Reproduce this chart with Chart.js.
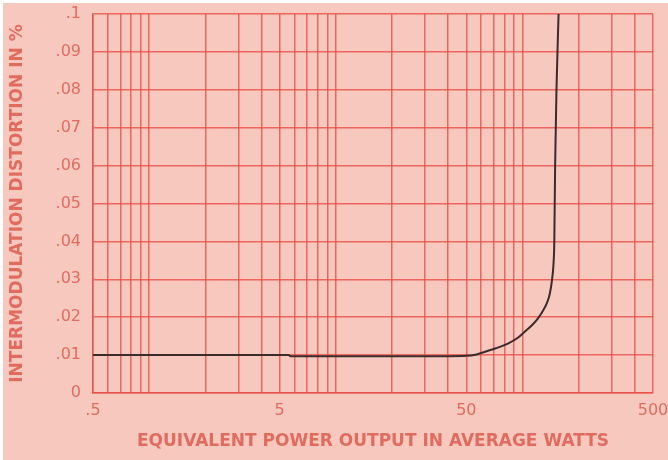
<!DOCTYPE html>
<html>
<head>
<meta charset="utf-8">
<script src="https://cdn.jsdelivr.net/npm/chart.js@4"></script>
<style>
  html, body { margin: 0; padding: 0; background: #ffffff; }
  #wrap { position: absolute; left: 0; top: 0; width: 668px; height: 460px; }
</style>
</head>
<body>
<div id="wrap"><canvas id="imdChart" width="668" height="460"></canvas></div>
<script>
// Power output (watts) vs intermodulation distortion (%)
const powerWatts = [0.5, 3, 5.6, 5.7, 20, 40, 50, 56, 63, 72, 84, 94, 103, 113, 121, 128, 135, 140, 144, 146.5, 148, 149.5, 152, 156];
const distortion = [0.0100, 0.0100, 0.0100, 0.0097, 0.0097, 0.0097, 0.0098, 0.0101, 0.0109, 0.0118, 0.0131, 0.0145, 0.0162, 0.0180, 0.0197, 0.0215, 0.0237, 0.0262, 0.0300, 0.0340, 0.0400, 0.0600, 0.0800, 0.1000];

// log paper lines 0.5 .. 500 and the labelled ones
const xGridTicks = [0.5, 0.6, 0.7, 0.8, 0.9, 1, 2, 3, 4, 5, 6, 7, 8, 9, 10, 20, 30, 40, 50, 60, 70, 80, 90, 100, 200, 300, 400, 500];
const xLabelled = [0.5, 5, 50, 500];

const ink = '#e06c60';
const gridRed = 'rgba(232, 78, 70, 0.8)';
const paper = '#f7c8be';
const face = "'DejaVu Sans', sans-serif";

const paperBg = {
  id: 'paperBg',
  beforeDraw(chart) {
    const c = chart.ctx;
    c.save();
    c.fillStyle = paper;
    c.fillRect(3, 3, chart.width - 3, chart.height - 3);
    c.restore();
  }
};

new Chart(document.getElementById('imdChart'), {
  type: 'line',
  data: {
    datasets: [{
      data: powerWatts.map((w, i) => ({ x: w, y: distortion[i] })),
      borderColor: '#3b2b2b',
      borderWidth: 2,
      pointRadius: 0,
      cubicInterpolationMode: 'monotone',
      fill: false
    }]
  },
  options: {
    responsive: false,
    animation: false,
    layout: { padding: { left: 0, top: 14, right: 15, bottom: 0 } },
    plugins: { legend: { display: false }, tooltip: { enabled: false } },
    scales: {
      x: {
        type: 'logarithmic',
        min: 0.5,
        max: 500,
        afterBuildTicks: s => { s.ticks = xGridTicks.map(v => ({ value: v })); },
        afterFit: s => { s.height = 67; s.paddingLeft = 0; s.paddingRight = 0; },
        grid: { color: gridRed, lineWidth: 1.5, drawTicks: false },
        border: { color: gridRed, width: 1.5 },
        ticks: {
          autoSkip: false,
          maxRotation: 0,
          padding: 8,
          color: ink,
          font: { family: face, size: 16 },
          callback: v => xLabelled.includes(v) ? String(v).replace(/^0\./, '.') : ''
        },
        title: {
          display: true,
          text: 'EQUIVALENT POWER OUTPUT IN AVERAGE WATTS',
          color: ink,
          font: { family: face, size: 17, weight: 'bold' },
          padding: { top: 2, bottom: 8 }
        }
      },
      y: {
        min: 0,
        max: 0.1,
        afterFit: s => { s.width = 93; s.paddingTop = 0; s.paddingBottom = 0; },
        grid: { color: gridRed, lineWidth: 1.5, drawTicks: false },
        border: { color: gridRed, width: 1.5 },
        ticks: {
          stepSize: 0.01,
          padding: 12,
          color: ink,
          font: { family: face, size: 16 },
          callback: v => v === 0 ? '0' : v.toFixed(2).replace(/^0/, '').replace(/0$/, '')
        },
        title: {
          display: true,
          text: 'INTERMODULATION DISTORTION IN %',
          color: ink,
          font: { family: face, size: 17, weight: 'bold' },
          padding: { top: 7, bottom: 0 }
        }
      }
    }
  },
  plugins: [paperBg]
});
</script>
</body>
</html>
